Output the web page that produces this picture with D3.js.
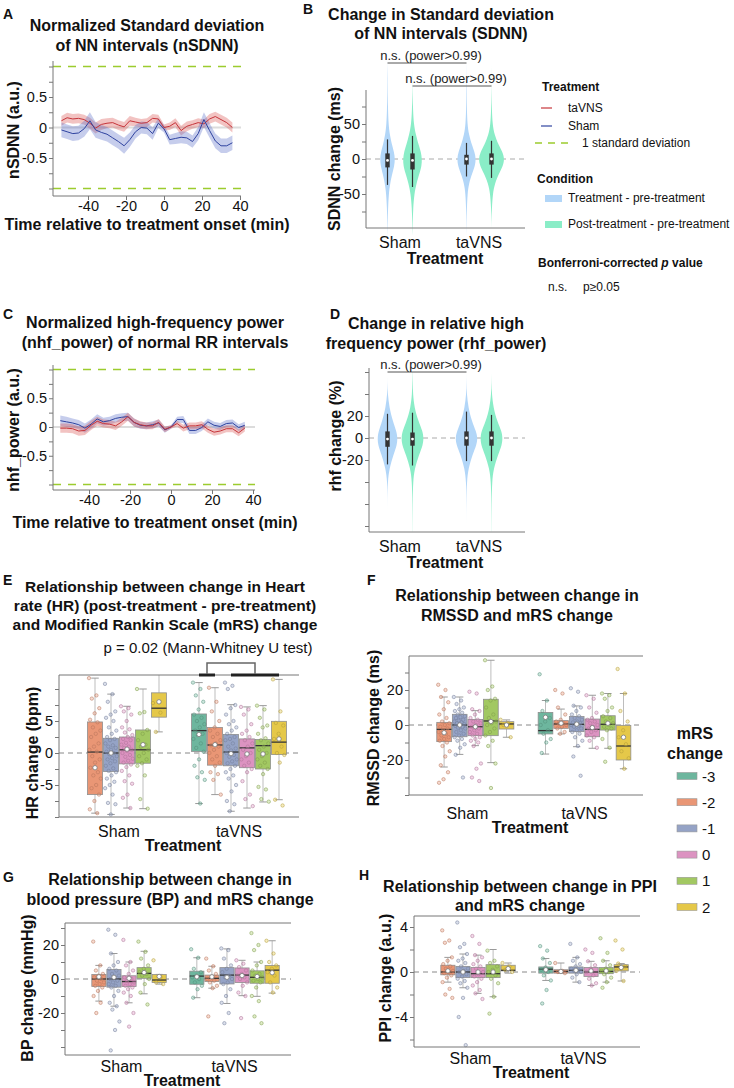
<!DOCTYPE html>
<html><head><meta charset="utf-8">
<script src="https://cdn.jsdelivr.net/npm/d3@7"></script>
<style>
body{margin:0;background:#fff;}
svg text{font-family:"Liberation Sans",Arial,sans-serif;}
</style></head><body>
<svg id="c" width="734" height="1088"></svg>
<script>
// ---------------- DATA ----------------
const timeMin = [-54,-51,-48,-45,-42,-39,-36,-33,-30,-27,-24,-21,-18,-15,-12,-9,-6,-3,0,3,6,9,12,15,18,21,24,27,30,33,36];
const sdLevels = [-1, 1];
// Panel A (nSDNN)
const aTaVNS = [0.11,0.16,0.14,0.15,0.13,0.07,-0.01,0.05,0.07,0.08,0.04,0.01,0.11,0.09,0.07,0.08,0.15,0.14,0.0,0.02,0.08,-0.05,0.02,0.05,0.08,0.06,0.14,0.18,0.13,0.08,0.0];
const aTaVNSErr = [0.08,0.08,0.08,0.08,0.08,0.09,0.09,0.09,0.08,0.08,0.08,0.08,0.08,0.07,0.07,0.07,0.07,0.07,0.05,0.06,0.07,0.08,0.08,0.07,0.07,0.07,0.08,0.08,0.08,0.08,0.08];
const aSham = [-0.04,-0.07,-0.1,-0.09,-0.02,0.11,-0.04,-0.08,-0.11,-0.17,-0.23,-0.3,-0.2,-0.07,0.0,-0.01,-0.1,0.07,-0.02,-0.2,-0.18,-0.16,-0.17,-0.23,-0.1,0.13,-0.05,-0.22,-0.3,-0.3,-0.25];
const aShamErr = [0.12,0.12,0.12,0.12,0.13,0.14,0.13,0.12,0.12,0.12,0.12,0.13,0.12,0.11,0.1,0.1,0.1,0.08,0.06,0.08,0.09,0.1,0.1,0.1,0.11,0.12,0.12,0.12,0.12,0.12,0.12];
// Panel C (nhf_power)
const cTaVNS = [-0.02,-0.02,-0.03,-0.07,-0.06,0.03,0.1,0.06,0.05,0.02,0.09,0.18,0.08,0.04,0.02,0.02,0.08,-0.04,0.0,0.06,-0.02,0.02,0.02,0.04,-0.04,-0.09,-0.07,-0.03,-0.03,-0.1,-0.02];
const cTaVNSErr = [0.08,0.08,0.08,0.08,0.08,0.08,0.08,0.07,0.07,0.07,0.07,0.07,0.07,0.06,0.06,0.06,0.06,0.05,0.03,0.05,0.06,0.06,0.06,0.06,0.06,0.06,0.06,0.06,0.06,0.06,0.06];
const cSham = [0.11,0.09,0.07,0.04,-0.02,0.05,0.14,0.09,0.11,0.15,0.17,0.18,0.08,0.03,0.02,0.04,0.07,-0.05,0.0,0.13,0.13,-0.06,-0.06,-0.01,0.09,0.03,0.01,0.06,0.07,-0.01,0.03];
const cShamErr = [0.09,0.09,0.08,0.08,0.08,0.08,0.08,0.07,0.07,0.07,0.07,0.07,0.07,0.06,0.06,0.06,0.06,0.05,0.03,0.05,0.06,0.06,0.06,0.06,0.06,0.06,0.06,0.06,0.06,0.06,0.06];
const lineXTicks = [-40,-20,0,20,40];
const lineYTicks = [-1,-0.75,-0.5,-0.25,0,0.25,0.5,0.75,1];
const lineYLabels = [-0.5,0,0.5];

// Violin panels
const treatments = ["Sham","taVNS"];
const conditions = ["Treatment - pre-treatment","Post-treatment - pre-treatment"];
const sdnnGrid = [-110,-90,-70,-50,-35,-20,-10,0,10,20,35,50,70,90,110,140];
const sdnnShamTx   = [0,0.02,0.04,0.1,0.2,0.38,0.52,0.58,0.5,0.35,0.17,0.08,0.04,0.02,0.015,0];
const sdnnShamPost = [0,0.02,0.05,0.14,0.3,0.55,0.7,0.73,0.65,0.48,0.25,0.1,0.04,0.015,0,0];
const sdnnTaTx     = [0,0.01,0.03,0.08,0.18,0.45,0.65,0.73,0.62,0.42,0.18,0.07,0.03,0.02,0.01,0];
const sdnnTaPost   = [0,0,0.03,0.1,0.25,0.6,0.88,1.0,0.85,0.55,0.22,0.08,0.03,0.01,0,0];
// [whiskerLo, q1, median, q3, whiskerHi]
const sdnnBox = [[-37,-12,-2,8,28],[-40,-15,-2,8,33],[-25,-8,0,6,23],[-27,-8,0,8,26]];
const rhfGrid = [-85,-70,-55,-40,-28,-15,-6,0,6,15,28,40,50,60];
const rhfShamTx   = [0,0,0,0.02,0.15,0.5,0.8,0.83,0.75,0.45,0.15,0.02,0,0];
const rhfShamPost = [0.005,0.01,0.02,0.05,0.17,0.55,0.88,0.92,0.85,0.5,0.15,0.04,0.02,0.005];
const rhfTaTx     = [0,0,0.01,0.03,0.15,0.5,0.85,0.92,0.8,0.45,0.15,0.02,0.005,0];
const rhfTaPost   = [0.005,0.01,0.02,0.05,0.17,0.55,0.88,0.92,0.85,0.48,0.15,0.03,0.005,0];
const rhfBox = [[-24,-8,-1,6,22],[-25,-7,-1,5,23],[-21,-7,0,6,24],[-21,-7,0,6,21]];

// Box panels: mRS levels
const mrsLevels = [-3,-2,-1,0,1,2];
const mrsColors = ["#6db69e","#e99675","#95a3c6","#dc93c1","#a2c862","#e5c849"];
// [whiskerLo, q1, median, q3, whiskerHi, mean]
const hrBoxSham = [null,[-9.4,-6.5,0.15,4.85,11.7,-2.3],[-9.6,-2.9,0,2.3,9.2,0.0],[-8.6,-1.7,0.5,2.5,7.3,0.6],[-8.7,-1.6,0.5,3.6,10,1.3],[3.3,5.6,7,9.4,13,8]];
const hrBoxTaVNS = [[-7.9,0.25,3.5,6.1,11,2.9],[-6.5,-1.9,1.25,4,10.2,1.3],[-9.1,-2,0.15,2.9,7.55,-0.1],[-8.6,-2.3,0.8,2.2,7.2,-0.15],[-7.65,-2.5,1.15,2.1,7.4,-0.15],[-7.3,-0.25,1.7,4.95,11.5,2.2]];
const hrPtsSham = [[],
 [11.7,9,8.5,7,6.2,5.2,4.8,4,3.5,3,2.5,1.5,1,0.5,0.2,-0.5,-1,-1.5,-2.3,-3,-3.5,-4,-5,-5.5,-6.5,-7.5,-8.8,-9.4],
 [10.8,9.2,8,6.5,6,5.5,5,4,3.5,3,2.5,2.2,2,1.5,1.2,1,0.8,0.5,0.2,0,-0.2,-0.5,-0.8,-1,-1.3,-1.6,-2,-2.4,-2.8,-3,-3.5,-4,-4.5,-5,-5.5,-6.5,-7.8,-8,-9.6],
 [7.3,7,6.5,6,5,4,3.7,3.2,2.8,2.5,2.2,2,1.6,1.3,1,0.8,0.5,0.3,0,-0.3,-0.6,-0.9,-1.2,-1.5,-1.8,-2.2,-2.8,-3.5,-4.4,-4.8,-6.5,-7,-8.6],
 [10,6.4,6.2,3.6,3,2,1.3,1,0.5,0,-0.5,-1,-1.6,-2,-3.5,-7.2,-8.7],
 [7.8,6.3,3.3]];
const hrPtsTaVNS = [
 [11,10,9,8,6.8,6,5.5,5,4.5,4,3.5,3,2.8,2.2,1.5,0.8,0.2,-1,-2,-3,-3.8,-4.2,-7.9],
 [10.2,8,6.5,5,4,3.5,3,2.5,2,1.5,1.2,1,0.5,0,-0.5,-1,-1.5,-2,-3,-3.3,-4.2,-6.5],
 [11,10.5,10,7.5,7,6,5,4.5,4,3.5,3,2.5,2.2,2,1.5,1,0.7,0.4,0,-0.3,-0.6,-1,-1.3,-1.6,-2,-2.5,-3,-3.5,-4,-5,-6,-7.5,-8,-9.1],
 [7.2,6.8,6,4.5,3.5,3,2.5,2,1.5,1,0.5,0,-0.5,-1,-1.5,-2,-2.5,-3,-4.4,-6.5,-7.2,-8.3],
 [7.4,6.8,5.5,4.3,4,3,2.3,2,1.5,1,0.5,0,-0.5,-1,-1.5,-2,-2.5,-3.3,-5.3,-5.7,-7.2,-7.6],
 [11.5,6.5,4.7,4.3,3,2.2,1,0,-0.3,-1.5,-7.3,-8.2]];

const rmssdBoxSham = [null,[-24,-9.5,-2.5,1.5,16,-4.4],[-16.8,-6.7,0,6.1,16,0],[-11.8,-6.1,-1,3.2,8.2,-1],[-21.5,-6.1,2.3,14.7,37,2],[-7,-2.3,0.6,1.9,2.9,0]];
const rmssdBoxTaVNS = [[-16.6,-5.1,-3.2,7.2,14,4.4],[-5.1,-1.9,0.6,2.5,9.1,1],[-12.4,-3.8,0.4,4.8,10.9,0.5],[-13.3,-6.7,-2.5,3.4,17,-1.5],[-13.3,-2.9,0.4,5.3,18,1],[-25,-20,-12,-0.2,18,-7]];
const rmssdPtsSham = [[],
 [23,20,16,13,9,6,4,2,1,0,-1,-2,-3,-4,-5,-6,-7,-8,-9,-10,-12,-15,-18,-23,-27,-31,-33],
 [16,14,12,10,9,8,7,6,5,4.5,4,3,2.5,2,1.5,1,0.5,0,-0.5,-1,-1.5,-2,-3,-4,-5,-6,-7,-8,-9,-11,-13,-17,-30],
 [19,18,9,8,6,4,3,2,1,0,-1,-2,-3,-4,-5,-6,-7,-8,-9,-10,-12,-22,-25,-30,-32],
 [37,22,20,15,14,10,6,4,2,1,0,-2,-4,-6,-9,-12,-22,-36],
 [3,1,0,-7]];
const rmssdPtsTaVNS = [
 [29,14,8,4,2,0,-3,-5,-8,-10,-16],
 [20,18,10,6,3,2,1,0.5,0,-1,-2,-4,-5],
 [21,19,11,10,8,6,5,4,3,2,1.5,1,0.5,0,-0.5,-1,-2,-3,-4,-5,-7,-9,-12,-18,-29],
 [17,15,10,7,4,3,2,1,0,-1,-2,-3,-4,-6,-7,-9,-13],
 [18,17,15,10,8,5,4,2,1,0,-1,-2,-3,-8,-13,-21],
 [32,18,8,2,-3,-7,-11,-15,-19,-25]];

const bpBoxSham = [null,[-13,-4.4,0,2.7,8,1.3],[-16,-4.8,0,5.6,15,1],[-14,-4.4,-1.5,1.9,10,0.4],[-8.7,0.4,3.3,6.7,16.3,3.8],[-3,-2.1,-0.6,2.7,2.7,1.5]];
const bpBoxTaVNS = [[-11,-3.1,1.7,4.6,12.5,1.3],[-5.4,-1.5,0.4,2.3,7.5,1.3],[-14.4,-2.9,2.3,6.7,17.7,1],[-9.8,-2.1,2.3,6.5,11,2],[-10.2,-2.5,1,4.8,10,1.5],[-8.3,-2.5,5.2,8,22.5,3.7]];
const bpPtsSham = [[],
 [22,8,5,3,2,1,0,-1,-2,-3,-4,-5,-7,-10,-14,-20],
 [29,26,15,10,8,6,5,3,2,1,0,-1,-2,-3,-4,-5,-7,-10,-14,-16,-18,-25,-30,-42],
 [23,10,8,5,3,1,0,-1,-2,-3,-4,-5,-6,-8,-10,-14,-20,-28],
 [22,16,12,8,6,4,3,2,0,-3,-8,-15],
 [11,1,-2,-3]];
const bpPtsTaVNS = [
 [17.5,12.5,6,4,2,1,0,-2,-4,-6,-11],
 [12,7.5,5,3,1,0,-1,-2,-4,-5.4,-22],
 [18,17,12,8,6,4,2,1,0,-2,-3,-6,-10,-14,-20,-26],
 [11,9,7,5,3,2,1,0,-2,-4,-8,-10,-23],
 [27,20,17,10,8,5,3,2,1,0,-1,-2,-5,-10,-13,-22,-26],
 [22.5,15,10,8,6,4,2,-2,-5,-8]];

const ppiBoxSham = [null,[-0.9,-0.25,0,0.6,1.3,0.1],[-1.4,-0.5,0,0.5,1.6,0],[-1.9,-0.5,-0.15,0.4,1.5,0],[-2.2,-0.5,-0.15,0.65,2,0],[-0.1,0.1,0.15,0.6,0.8,0.3]];
const ppiBoxTaVNS = [[-0.75,-0.1,0.25,0.45,1.2,0.2],[-0.1,-0.1,0.05,0.2,0.8,0.05],[-0.9,-0.1,0.15,0.45,1.3,0.15],[-1.2,-0.4,0,0.4,0.95,0.1],[-0.9,-0.15,0.05,0.4,1,0.1],[-0.8,0.1,0.45,0.65,0.75,0.4]];
const ppiPtsSham = [[],
 [3.7,2.8,2.6,1.3,1,0.7,0.5,0.3,0.1,0,-0.1,-0.3,-0.5,-0.9,-1.5,-2,-2.3],
 [4.4,2.5,2.2,1.6,1.2,1,0.8,0.5,0.3,0.1,0,-0.2,-0.4,-0.6,-0.8,-1,-1.4,-2.3,-4,-6.5],
 [3.2,2.5,1.5,1.3,1,0.7,0.5,0.3,0,-0.2,-0.4,-0.6,-0.9,-1.2,-1.6,-1.9,-2.4],
 [1.9,1,0.8,0.5,0.2,0,-0.3,-0.6,-1,-2.2,-3.7],
 [0.8,0.5,0.2,0]];
const ppiPtsTaVNS = [
 [2.3,1.9,1.2,0.8,0.4,0.2,0,-0.3,-0.75,-1.6,-2.8],
 [0.8,0.1,0,-0.1],
 [2.5,1.3,1,0.7,0.5,0.3,0.2,0.1,0,-0.2,-0.5,-0.9],
 [2,1.7,0.95,0.6,0.3,0,-0.3,-0.6,-1,-1.2],
 [3,1.7,1,0.6,0.3,0.1,0,-0.2,-0.5,-0.9,-1.4],
 [2.8,2,0.75,0.5,0.3,0.1,-0.8]];
// significance bracket groups in E (taVNS)
const hrBracketA = [-3,-2];
const hrBracketB = [-1,2];

// ---------------- DRAWING ----------------
const svg = d3.select("#c");
const AXC = "#777";
function txt(x,y,s,o={}){
  const t = svg.append("text").attr("x",x).attr("y",y)
    .attr("font-size",o.size||15).attr("font-weight",o.bold?"bold":"normal")
    .attr("text-anchor",o.anchor||"middle").attr("dominant-baseline","central")
    .attr("fill",o.fill||"#111");
  if(o.rot) t.attr("transform",`rotate(-90,${x},${y})`);
  if(o.html) t.html(s); else t.text(s);
  return t;
}
function styleAxis(a){
  a.select(".domain").remove();
  a.selectAll("line").attr("stroke",AXC);
  a.selectAll("text").attr("font-size",14.5).attr("fill","#111").attr("font-family","'Liberation Sans',Arial,sans-serif");
}
function vline(x,y1,y2,col=AXC,w=1){svg.append("line").attr("x1",x).attr("x2",x).attr("y1",y1).attr("y2",y2).attr("stroke",col).attr("stroke-width",w);}
function hline(x1,x2,y,col=AXC,w=1){svg.append("line").attr("x1",x1).attr("x2",x2).attr("y1",y).attr("y2",y).attr("stroke",col).attr("stroke-width",w);}

function linePanel(c){
  const x = d3.scaleLinear().domain([-40,40]).range(c.xr);
  const y = d3.scaleLinear().domain([-0.5,0.5]).range(c.yr);
  hline(c.axL,c.axR,y(0),"#dcdcdc",2);
  sdLevels.forEach(v=>svg.append("line").attr("x1",c.axL).attr("x2",c.axR).attr("y1",y(v)).attr("y2",y(v))
    .attr("stroke","#9ccc2e").attr("stroke-width",1.5).attr("stroke-dasharray","8,7"));
  c.series.forEach(s=>{
    const area = d3.area().x((d,i)=>x(timeMin[i])).y0((d,i)=>y(d-s.err[i])).y1((d,i)=>y(d+s.err[i]));
    svg.append("path").datum(s.mean).attr("d",area).attr("fill",s.band).attr("fill-opacity",0.35);
  });
  c.series.forEach(s=>{
    const ln = d3.line().x((d,i)=>x(timeMin[i])).y(d=>y(d));
    svg.append("path").datum(s.mean).attr("d",ln).attr("fill","none").attr("stroke",s.line).attr("stroke-width",1);
  });
  vline(c.axL,c.axT,c.axB); hline(c.axL,c.axR,c.axB);
  svg.append("g").attr("transform",`translate(${c.axL},0)`)
    .call(d3.axisLeft(y).tickValues(lineYTicks).tickSize(4).tickPadding(2).tickFormat(v=>lineYLabels.includes(v)?String(v):""))
    .call(styleAxis);
  svg.append("g").attr("transform",`translate(0,${c.axB})`)
    .call(d3.axisBottom(x).tickValues(lineXTicks).tickSize(4).tickPadding(1).tickFormat(v=>String(v)))
    .call(styleAxis);
  txt(c.ylx,c.yly,c.ylabel,{size:16,bold:true,rot:true});
  txt(c.xlx,c.xly,"Time relative to treatment onset (min)",{size:16,bold:true});
}

const condColor = {"Treatment - pre-treatment":"#b2d6f8","Post-treatment - pre-treatment":"#8aedc7"};
function violinPanel(c){
  const y = d3.scaleLinear().domain(c.yDom).range(c.yRng);
  const xg = d3.scalePoint().domain(treatments).range(c.gx);
  const xc = d3.scalePoint().domain(conditions).range([-12.5,12.5]);
  const w = d3.scaleLinear().domain([0,1]).range([0,c.maxW]);
  svg.append("line").attr("x1",c.axL).attr("x2",c.axR).attr("y1",y(0)).attr("y2",y(0))
    .attr("stroke","#aaa").attr("stroke-dasharray","5,4");
  c.viol.forEach((v,k)=>{
    const cx = xg(v.t)+xc(v.c);
    const area = d3.area().curve(d3.curveBasis).y((d,i)=>y(c.grid[i])).x0(d=>cx-w(d)).x1(d=>cx+w(d));
    svg.append("path").datum(v.dens).attr("d",area).attr("fill",condColor[v.c]);
    const b = c.box[k];
    vline(cx,y(b[4]),y(b[0]),"#333",1.2);
    svg.append("rect").attr("x",cx-2.2).attr("width",4.4).attr("y",y(b[3])).attr("height",y(b[1])-y(b[3])).attr("fill","#333");
    svg.append("circle").attr("cx",cx).attr("cy",y(b[2])).attr("r",1.4).attr("fill","#fff");
  });
  vline(c.axL,c.axT,c.axB); hline(c.axL,c.axR,c.axB);
  svg.append("g").attr("transform",`translate(${c.axL},0)`)
    .call(d3.axisLeft(y).tickValues(c.ticks).tickSize(4).tickPadding(2).tickFormat(v=>c.labels.includes(v)?String(v):""))
    .call(styleAxis);
  treatments.forEach(t=>txt(xg(t),c.catY,t,{size:16}));
  txt(c.xlx,c.catY+16,"Treatment",{size:16,bold:true});
  txt(c.ylx,c.yly,c.ylabel,{size:16,bold:true,rot:true});
  c.sig.forEach(s=>{
    const xa = xg(s.a[0])+xc(s.a[1]), xb = xg(s.b[0])+xc(s.b[1]);
    hline(xa,xb,s.y,"#555",1);
    txt((xa+xb)/2+4,s.y-8,"n.s. (power>0.99)",{size:13,fill:"#222"});
  });
}

function boxPanel(c){
  const y = d3.scaleLinear().domain([c.vA,c.vB]).range([c.pA,c.pB]);
  const xg = d3.scaleBand().domain(treatments).range([c.x0,c.x1]);
  const xi = d3.scaleBand().domain(mrsLevels).range([0,xg.bandwidth()]).paddingInner(0.06).paddingOuter(0.78);
  const bw = xi.bandwidth();
  const cy = v=>Math.max(c.yTop,Math.min(c.yBot,y(v)));
  svg.append("line").attr("x1",c.x0).attr("x2",c.x1).attr("y1",y(0)).attr("y2",y(0))
    .attr("stroke","#888").attr("stroke-dasharray","5,4");
  treatments.forEach(t=>{
    const stats = t==="Sham"?c.boxSham:c.boxTa;
    const pts = t==="Sham"?c.ptsSham:c.ptsTa;
    mrsLevels.forEach((m,k)=>{
      const s = stats[k]; if(!s) return;
      const xl = xg(t)+xi(m), cx = xl+bw/2, col = mrsColors[k];
      vline(cx,cy(s[4]),cy(s[0]),"#bdbdbd",1);
      [s[0],s[4]].forEach(v=>{ if(y(v)>=c.yTop && y(v)<=c.yBot) hline(cx-bw*0.25,cx+bw*0.25,y(v),"#9a9a9a",1); });
      svg.append("rect").attr("x",xl).attr("width",bw).attr("y",y(s[3])).attr("height",y(s[1])-y(s[3]))
        .attr("fill",col).attr("stroke","#8f8f8f").attr("stroke-width",0.8);
      hline(xl,xl+bw,y(s[2]),"#333",1.3);
      pts[k].forEach((v,i)=>{
        const jx = cx + (((i*0.618034)%1)-0.5)*bw*0.8;
        svg.append("circle").attr("cx",jx).attr("cy",y(v)).attr("r",1.7)
          .attr("fill",col).attr("fill-opacity",0.35)
          .attr("stroke",d3.color(col).darker(0.7)).attr("stroke-width",0.6).attr("stroke-opacity",0.85);
      });
      svg.append("circle").attr("cx",cx).attr("cy",y(s[5])).attr("r",2.2).attr("fill","#fff").attr("stroke","#777").attr("stroke-width",0.8);
    });
  });
  hline(c.x0,c.x1,c.yTop); hline(c.x0,c.x1,c.yBot); vline(c.x0,c.yTop,c.yBot);
  svg.append("g").attr("transform",`translate(${c.x0},0)`)
    .call(d3.axisLeft(y).tickValues(c.ticks).tickSize(4).tickPadding(2).tickFormat(v=>c.labels.includes(v)?String(v):""))
    .call(styleAxis);
  treatments.forEach(t=>txt(xg(t)+xg.bandwidth()/2,c.catY,t,{size:16}));
  txt((c.x0+c.x1)/2+4,c.catY+14,"Treatment",{size:16,bold:true});
  txt(c.ylx,c.yly,c.ylabel,{size:16,bold:true,rot:true});
  return {xg,xi,bw,y};
}

// ---- Panel A
txt(3,14,"A",{size:14,bold:true,anchor:"start"});
txt(147,25,"Normalized Standard deviation",{size:16,bold:true});
txt(147,45,"of NN intervals (nSDNN)",{size:16,bold:true});
linePanel({xr:[88,240],yr:[158,97],axL:53,axR:241,axT:61,axB:196,ylx:13,yly:130,ylabel:"nSDNN (a.u.)",xlx:147,xly:224,
  series:[{mean:aTaVNS,err:aTaVNSErr,band:"#d9534f",line:"#c6343a"},{mean:aSham,err:aShamErr,band:"#5b6fc8",line:"#2f43a0"}]});
// ---- Panel C
txt(3,314,"C",{size:14,bold:true,anchor:"start"});
txt(155,322,"Normalized high-frequency power",{size:16,bold:true});
txt(155,342,"(nhf_power) of normal RR intervals",{size:16,bold:true});
linePanel({xr:[89,253],yr:[455.75,398.25],axL:53,axR:255,axT:365,axB:490,ylx:13,yly:430,ylabel:"nhf_power (a.u.)",xlx:155,xly:522,
  series:[{mean:cSham,err:cShamErr,band:"#5b6fc8",line:"#2f43a0"},{mean:cTaVNS,err:cTaVNSErr,band:"#d9534f",line:"#c6343a"}]});

// ---- Panel B
txt(303,9,"B",{size:14,bold:true,anchor:"start"});
txt(441,14,"Change in Standard deviation",{size:16,bold:true});
txt(441,33,"of NN intervals (SDNN)",{size:16,bold:true});
violinPanel({yDom:[-50,50],yRng:[194,124],gx:[400,479],maxW:13,axL:366,axR:525,axT:90,axB:228,
  ticks:[-75,-50,-25,0,25,50,75],labels:[-50,0,50],grid:sdnnGrid,
  viol:[{t:"Sham",c:conditions[0],dens:sdnnShamTx},{t:"Sham",c:conditions[1],dens:sdnnShamPost},
        {t:"taVNS",c:conditions[0],dens:sdnnTaTx},{t:"taVNS",c:conditions[1],dens:sdnnTaPost}],
  box:sdnnBox,catY:242,xlx:445,ylx:334,yly:159,ylabel:"SDNN change (ms)",
  sig:[{a:["Sham",conditions[0]],b:["taVNS",conditions[0]],y:63},{a:["Sham",conditions[1]],b:["taVNS",conditions[1]],y:86}]});
// ---- Panel D
txt(330,314,"D",{size:14,bold:true,anchor:"start"});
txt(436,323,"Change in relative high",{size:16,bold:true});
txt(436,343,"frequency power (rhf_power)",{size:16,bold:true});
violinPanel({yDom:[-20,20],yRng:[460,416],gx:[400,479],maxW:12,axL:369,axR:525,axT:368,axB:532,
  ticks:[-80,-60,-40,-20,0,20,40,60],labels:[-20,0,20],grid:rhfGrid,
  viol:[{t:"Sham",c:conditions[0],dens:rhfShamTx},{t:"Sham",c:conditions[1],dens:rhfShamPost},
        {t:"taVNS",c:conditions[0],dens:rhfTaTx},{t:"taVNS",c:conditions[1],dens:rhfTaPost}],
  box:rhfBox,catY:546,xlx:445,ylx:335,yly:436,ylabel:"rhf change (%)",
  sig:[{a:["Sham",conditions[0]],b:["taVNS",conditions[0]],y:372}]});

// ---- Legend (B)
txt(542,87,"Treatment",{size:12,bold:true,anchor:"start"});
hline(541,552,108,"#c6343a",1.2); txt(568,108,"taVNS",{size:12,anchor:"start"});
hline(541,552,126,"#2f43a0",1.2); txt(568,126,"Sham",{size:12,anchor:"start"});
svg.append("line").attr("x1",535).attr("x2",571).attr("y1",143).attr("y2",143).attr("stroke","#9ccc2e").attr("stroke-width",1.5).attr("stroke-dasharray","7,6");
txt(582,143,"1 standard deviation",{size:12,anchor:"start"});
txt(537,179,"Condition",{size:12,bold:true,anchor:"start"});
svg.append("rect").attr("x",545).attr("y",195).attr("width",17).attr("height",7).attr("fill",condColor[conditions[0]]);
txt(568,198,conditions[0],{size:12,anchor:"start"});
svg.append("rect").attr("x",545).attr("y",221).attr("width",17).attr("height",7).attr("fill",condColor[conditions[1]]);
txt(568,224,conditions[1],{size:12,anchor:"start"});
txt(538,263,'Bonferroni-corrected <tspan font-style="italic">p</tspan> value',{size:12,bold:true,anchor:"start",html:true});
txt(548,287,"n.s.",{size:12,anchor:"start"});
txt(583,287,"p≥0.05",{size:12,anchor:"start"});

// ---- Panel E
txt(3,580,"E",{size:14,bold:true,anchor:"start"});
txt(165,586,"Relationship between change in Heart",{size:15.5,bold:true});
txt(165,605,"rate (HR) (post-treatment - pre-treatment)",{size:15.5,bold:true});
txt(165,624,"and Modified Rankin Scale (mRS) change",{size:15.5,bold:true});
txt(208,647,"p = 0.02 (Mann-Whitney U test)",{size:15});
const E = boxPanel({x0:59,x1:299,yTop:675,yBot:817,vA:-5,pA:785,vB:5,pB:721,
  ticks:[-10,-7.5,-5,-2.5,0,2.5,5,7.5,10],labels:[-5,0,5],
  boxSham:hrBoxSham,boxTa:hrBoxTaVNS,ptsSham:hrPtsSham,ptsTa:hrPtsTaVNS,
  catY:831,ylx:32,yly:753,ylabel:"HR change (bpm)"});
{
  const cxOf = m=>E.xg("taVNS")+E.xi(m)+E.bw/2;
  const a0=cxOf(hrBracketA[0]), a1=cxOf(hrBracketA[1]), b0=cxOf(hrBracketB[0]), b1=cxOf(hrBracketB[1]);
  hline(a0,a1,675,"#222",3); hline(b0,b1,675,"#222",3);
  const ma=(a0+a1)/2, mb=(b0+b1)/2;
  svg.append("path").attr("d",`M${ma},674V663H${mb}V674`).attr("fill","none").attr("stroke","#666").attr("stroke-width",1.5);
}
// ---- Panel F
txt(367,580,"F",{size:14,bold:true,anchor:"start"});
txt(517,595,"Relationship between change in",{size:16,bold:true});
txt(517,615,"RMSSD and mRS change",{size:16,bold:true});
boxPanel({x0:409,x1:643,yTop:656,yBot:795,vA:-20,pA:760,vB:20,pB:690,
  ticks:[-40,-30,-20,-10,0,10,20,30],labels:[-20,0,20],
  boxSham:rmssdBoxSham,boxTa:rmssdBoxTaVNS,ptsSham:rmssdPtsSham,ptsTa:rmssdPtsTaVNS,
  catY:813,ylx:373,yly:728,ylabel:"RMSSD change (ms)"});
// ---- Panel G
txt(3,877,"G",{size:14,bold:true,anchor:"start"});
txt(170,879,"Relationship between change in",{size:16,bold:true});
txt(170,899,"blood pressure (BP) and mRS change",{size:16,bold:true});
boxPanel({x0:65,x1:291,yTop:923,yBot:1055,vA:-20,pA:1013,vB:20,pB:945,
  ticks:[-40,-30,-20,-10,0,10,20,30],labels:[-20,0,20],
  boxSham:bpBoxSham,boxTa:bpBoxTaVNS,ptsSham:bpPtsSham,ptsTa:bpPtsTaVNS,
  catY:1066,ylx:27,yly:988,ylabel:"BP change (mmHg)"});
// ---- Panel H
txt(359,875,"H",{size:14,bold:true,anchor:"start"});
txt(520,886,"Relationship between change in PPI",{size:16,bold:true});
txt(520,905,"and mRS change",{size:16,bold:true});
boxPanel({x0:414,x1:640,yTop:916,yBot:1047,vA:-4,pA:1017,vB:4,pB:927,
  ticks:[-6,-4,-2,0,2,4],labels:[-4,0,4],
  boxSham:ppiBoxSham,boxTa:ppiBoxTaVNS,ptsSham:ppiPtsSham,ptsTa:ppiPtsTaVNS,
  catY:1058,ylx:385,yly:978,ylabel:"PPI change (a.u.)"});

// ---- mRS legend
txt(695,733,"mRS",{size:16,bold:true});
txt(695,753,"change",{size:16,bold:true});
mrsLevels.forEach((m,k)=>{
  const yy = 776 + k*26.2;
  svg.append("rect").attr("x",677).attr("y",yy-3.5).attr("width",20).attr("height",7).attr("fill",mrsColors[k]).attr("stroke","#999").attr("stroke-width",0.6);
  txt(702,yy,String(m),{size:15,anchor:"start"});
});
</script>
</body></html>
